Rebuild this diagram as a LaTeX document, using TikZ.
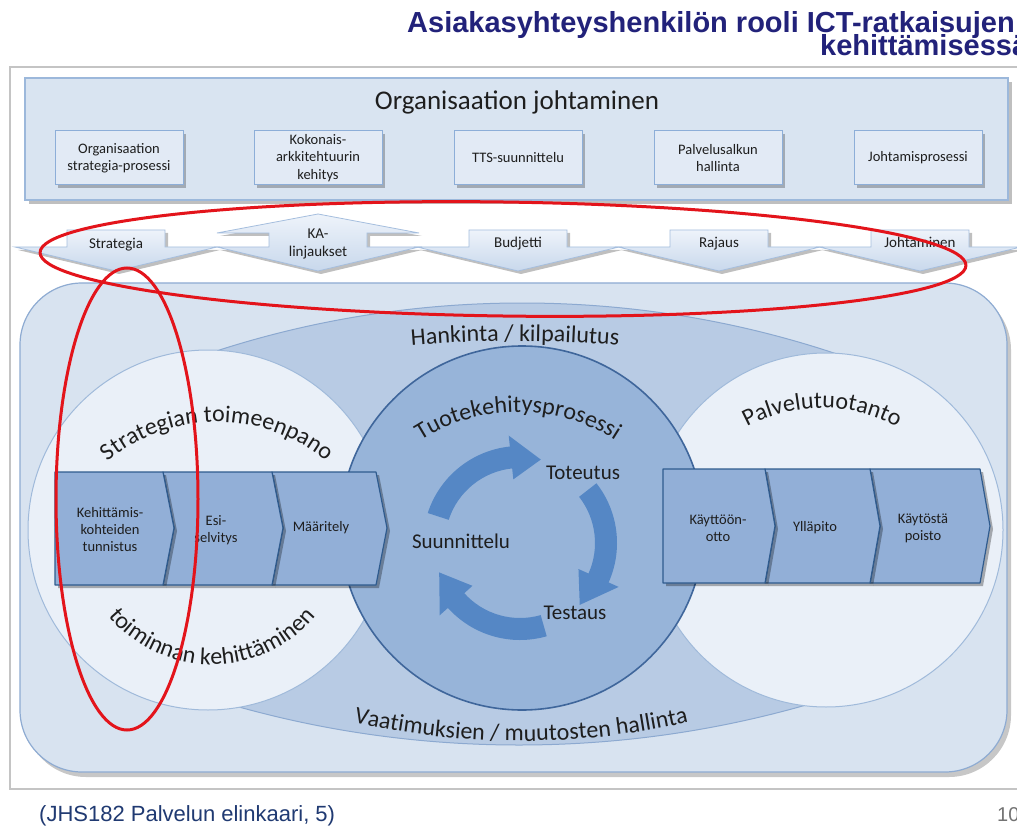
\documentclass[tikz,border=0pt]{standalone}
\usepackage{fontspec}
\setmainfont{Carlito}
\newfontfamily\arialf{Liberation Sans}
\usetikzlibrary{decorations.text}
\definecolor{titleblue}{HTML}{22227A}
\definecolor{framegray}{HTML}{C4C4C4}
\definecolor{topfill}{HTML}{D9E4F1}
\definecolor{topborder}{HTML}{9CB8DB}
\definecolor{smallfill}{HTML}{E2EAF5}
\definecolor{smallborder}{HTML}{8DAED8}
\definecolor{rowtop}{HTML}{EEF3FA}
\definecolor{rowbot}{HTML}{C8D8EC}
\definecolor{rowborder}{HTML}{A5BEDE}
\definecolor{bigfill}{HTML}{D8E3F0}
\definecolor{bigborder}{HTML}{8EABD2}
\definecolor{bandfill}{HTML}{B8CBE4}
\definecolor{bandline}{HTML}{8CA9D0}
\definecolor{sidefill}{HTML}{EAF0F8}
\definecolor{sideborder}{HTML}{A0BADA}
\definecolor{centerfill}{HTML}{97B4D9}
\definecolor{centerborder}{HTML}{3F669B}
\definecolor{chevfill}{HTML}{92AFD7}
\definecolor{chevborder}{HTML}{2F5B8E}
\definecolor{cyclearrow}{HTML}{5587C5}
\definecolor{txt}{HTML}{1E1E1E}
\definecolor{footblue}{HTML}{203A72}
\definecolor{annot}{HTML}{E3141B}
\newcommand\curvefont{\fontsize{24}{26}\selectfont}
\begin{document}
\begin{tikzpicture}[x=1pt,y=1pt,
  shadowed/.style={preaction={fill=black,opacity=0.25,transform canvas={xshift=3pt,yshift=-3pt}}},
  smallbox/.style={draw=smallborder,fill=smallfill,line width=1,minimum width=128,minimum height=54,inner sep=1,align=center,text=txt,font=\fontsize{14.5}{17.5}\selectfont,shadowed},
  rowshape/.style={draw=rowborder,line width=0.8,top color=rowtop,bottom color=rowbot,shadowed},
  rowtext/.style={anchor=base,inner sep=0,text=txt,font=\fontsize{15}{18}\selectfont},
  chev/.style={draw=chevborder,line width=1.2,fill=chevfill,line join=round,preaction={fill=black,opacity=0.3,transform canvas={xshift=3pt,yshift=-3pt}}},
  chevtext/.style={align=center,inner sep=0,text=txt,font=\fontsize{14.5}{17}\selectfont},
  cyc/.style={fill=cyclearrow},
  cyctext/.style={inner sep=0,text=txt,font=\fontsize{21}{24}\selectfont},
  curved/.style={decorate,decoration={text along path,text align=center,text color=txt}},
  redline/.style={draw=annot,line width=3}]
\useasboundingbox (0,0) rectangle (1017,-826);
\fill[white] (0,0) rectangle (1017,-826);
% title
\node[anchor=base west,inner sep=0,text=titleblue,font=\arialf\bfseries\fontsize{29}{30}\selectfont] (title1) at (407,-33) {Asiakasyhteyshenkilön rooli ICT-ratkaisujen};
\node[anchor=base west,inner sep=0,text=titleblue,font=\arialf\bfseries\fontsize{29}{30}\selectfont] (title2) at (820,-56) {kehittämisessä};
% frame
\draw[framegray,line width=1.2] (10,-67) rectangle (1040,-789);
% top box
\fill[black,opacity=0.25] (29,-82) rectangle (1012,-204);
\draw[topborder,fill=topfill,line width=1.2] (25,-78) rectangle (1008,-200);
\node[anchor=base,inner sep=0,text=txt,font=\fontsize{27}{30}\selectfont] (orgtitle) at (517,-110) {Organisaation johtaminen};
\node[smallbox] (sb1) at (119,-158) {Organisaation\\strategia-prosessi};
\node[smallbox] (sb2) at (318,-158) {Kokonais-\\arkkitehtuurin\\kehitys};
\node[smallbox] (sb3) at (518,-158) {TTS-suunnittelu};
\node[smallbox] (sb4) at (718,-158) {Palvelusalkun\\hallinta};
\node[smallbox] (sb5) at (918,-158) {Johtamisprosessi};
% arrow row
\foreach \cx in {116,518,719,920}{
  \path[rowshape] ({\cx-49},-230) -- ({\cx+49},-230) -- ({\cx+49},-247) -- ({\cx+101},-247) -- (\cx,-271) -- ({\cx-101},-247) -- ({\cx-49},-247) -- cycle;
}
\path[rowshape] (217,-233) -- (318,-214) -- (419,-233) -- (367,-233) -- (367,-247) -- (419,-247) -- (318,-271) -- (217,-247) -- (269,-247) -- (269,-233) -- cycle;
\node[rowtext] (r1) at (116,-249) {Strategia};
\node[rowtext] (r2a) at (318,-239) {KA-};
\node[rowtext] (r2b) at (318,-257) {linjaukset};
\node[rowtext] (r3) at (518,-248) {Budjetti};
\node[rowtext] (r4) at (719,-248) {Rajaus};
\node[rowtext] (r5) at (920,-248) {Johtaminen};
% big rounded area
\fill[black,opacity=0.22,rounded corners=62] (24,-288) rectangle (1011,-777);
\draw[bigborder,fill=bigfill,line width=1.2,rounded corners=62] (20,-283) rectangle (1007,-772);
% band
\begin{scope}
  \clip (195,-290) rectangle (852,-760);
  \begin{scope}
    \clip (522,-1295) circle (992);
    \fill[bandfill] (519,298) circle (1043);
  \end{scope}
  \draw[bandline,line width=1] (522,-1295) circle (992);
  \draw[bandline,line width=1] (519,298) circle (1043);
\end{scope}
% side circles
\draw[sideborder,fill=sidefill,line width=1] (208,-530) circle (180);
\draw[sideborder,fill=sidefill,line width=1] (826,-530) circle (177);
% centre circle
\draw[centerborder,fill=centerfill,line width=1.6] (522,-528) circle (182);
% cycle arrows
\begin{scope}[shift={(520,-543)}]
  \fill[cyc] (162:97) arc[start angle=162,end angle=96,radius=97] -- (96:108) -- (76:86) -- (96:64) -- (96:75) arc[start angle=96,end angle=162,radius=75] -- cycle;
  \fill[cyc] (38:97) arc[start angle=38,end angle=-24,radius=97] -- (-24:108) -- (-46:86) -- (-24:64) -- (-24:75) arc[start angle=-24,end angle=38,radius=75] -- cycle;
  \fill[cyc] (-74:97) arc[start angle=-74,end angle=-138,radius=97] -- (-138:108) -- (-160:86) -- (-138:64) -- (-138:75) arc[start angle=-138,end angle=-74,radius=75] -- cycle;
\end{scope}
\node[cyctext] (toteutus) at (583,-473) {Toteutus};
\node[cyctext] (suunn) at (461,-541) {Suunnittelu};
\node[cyctext] (testaus) at (575,-613) {Testaus};
% chevrons left
\path[chev] (272,-472) -- (376,-472) -- (387,-528) -- (376,-585) -- (272,-585) -- (283,-528) -- cycle;
\path[chev] (163,-472) -- (272,-472) -- (283,-528) -- (272,-585) -- (163,-585) -- (174,-528) -- cycle;
\path[chev] (55,-472) -- (163,-472) -- (174,-528) -- (163,-585) -- (55,-585) -- cycle;
% chevrons right
\path[chev] (870,-469) -- (980,-469) -- (990,-526) -- (980,-583) -- (870,-583) -- (880,-526) -- cycle;
\path[chev] (765,-469) -- (870,-469) -- (880,-526) -- (870,-583) -- (765,-583) -- (775,-526) -- cycle;
\path[chev] (663,-469) -- (765,-469) -- (775,-526) -- (765,-583) -- (663,-583) -- cycle;
\node[chevtext] (k1) at (110,-530) {Kehittämis-\\kohteiden\\tunnistus};
\node[chevtext] (k2) at (216,-530) {Esi-\\selvitys};
\node[chevtext] (k3) at (321,-528) {Määritely};
\node[chevtext] (k4) at (718,-528) {Käyttöön-\\otto};
\node[chevtext] (k5) at (815,-528) {Ylläpito};
\node[chevtext] (k6) at (923,-528) {Käytöstä\\poisto};
% curved labels
\begin{scope}[shift={(217,-593)}]
  \path[curved,decoration={text={|\curvefont|Strategian toimeenpano}}] (137:171) arc[start angle=137,end angle=43,radius=171];
\end{scope}
\begin{scope}[shift={(212,-530)}]
  \path[curved,decoration={text={|\curvefont|toiminnan kehittäminen}}] (-150:134.5) arc[start angle=-150,end angle=-30,radius=134.5];
\end{scope}
\begin{scope}[shift={(515,-1576)}]
  \path[curved,decoration={text={|\curvefont|Hankinta / kilpailutus}}] (96:1235) arc[start angle=96,end angle=84,radius=1235];
\end{scope}
\begin{scope}[shift={(518,-592)}]
  \path[curved,decoration={text={|\curvefont|Tuotekehitysprosessi}}] (128:180) arc[start angle=128,end angle=52,radius=180];
\end{scope}
\begin{scope}[shift={(822,-566)}]
  \path[curved,decoration={text={|\curvefont|Palvelutuotanto}}] (128:158) arc[start angle=128,end angle=52,radius=158];
\end{scope}
\begin{scope}[shift={(521,20)}]
  \path[curved,decoration={text={|\curvefont|Vaatimuksien / muutosten hallinta}}] (-104:761) arc[start angle=-104,end angle=-76,radius=761];
\end{scope}
% red annotations
\draw[redline,rotate around={-0.8:(503,-259)}] (503,-259) ellipse[x radius=463,y radius=57];
\draw[redline] (127,-499) ellipse[x radius=71,y radius=231];
% footer
\node[anchor=base west,inner sep=0,text=footblue,font=\arialf\fontsize{22}{24}\selectfont] (foot) at (39,-821) {(JHS182 Palvelun elinkaari, 5)};
\node[anchor=base west,inner sep=0,text=black!55,font=\arialf\fontsize{20}{22}\selectfont] (pagenum) at (997,-821) {10};
\end{tikzpicture}
\end{document}
